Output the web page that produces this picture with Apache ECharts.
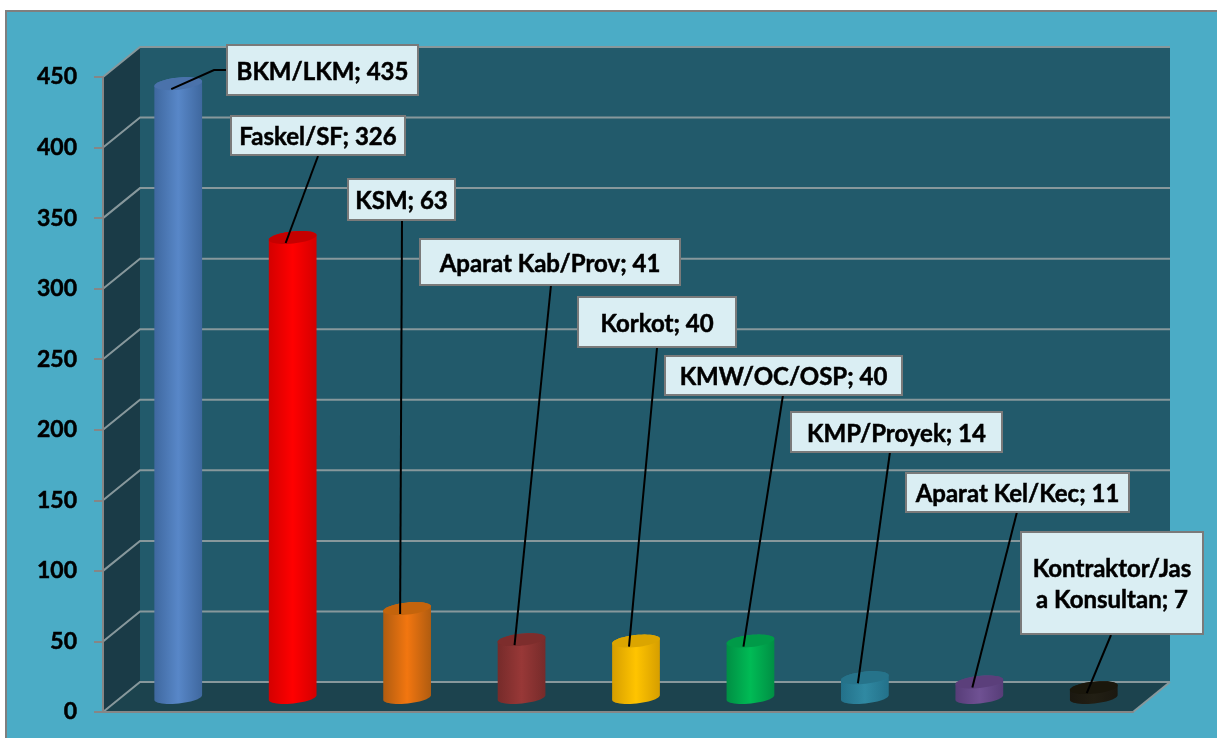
<!DOCTYPE html>
<html><head><meta charset="utf-8">
<style>html,body{margin:0;padding:0;background:#fff}#c{width:1217px;height:738px}</style>
<script src="https://cdn.jsdelivr.net/npm/echarts@6/dist/echarts.min.js"></script>
</head><body><div id="c"></div>
<script>
const categories = ['BKM/LKM','Faskel/SF','KSM','Aparat Kab/Prov','Korkot','KMW/OC/OSP','KMP/Proyek','Aparat Kel/Kec','Kontraktor/Jas\na Konsultan'];
const values = [435,326,63,41,40,40,14,11,7];
const yTicks = [0,50,100,150,200,250,300,350,400,450];
const barColors = [
  ['#3f689f','#5887c8','#4a72ab'],
  ['#d40000','#ff0000','#c60000'],
  ['#b05c10','#f27610','#c4640c'],
  ['#762b2a','#983837','#7d2d2c'],
  ['#d69e00','#ffc400','#dba500'],
  ['#008f44','#00bb55','#009a48'],
  ['#23718a','#3089a2','#26738a'],
  ['#573d78','#6f5193','#5b3f7b'],
  ['#1b1810','#221f14','#1a170c']
];
// annotation boxes in page pixels: x, y, width, height
const labelBoxes = [[227,45,191,50],[231,116,174,39],[348,179,107,41],[420,239,260,46],[578,297,158,50],[665,356,237,39],[791,412,211,40],[906,473,223,39],[1021,532,182,102]];
// where each leader leaves its box, and an optional elbow
const leaderStarts = [[[227,70],[214,70]],[[318,156]],[[402,221]],[[551,285]],[[657,348]],[[783,395]],[[890,452]],[[1017,512]],[[1111,635]]];

const DX = 37, DY = -30, CX = 18, CY = -14.5, RX = 24, RY = 6, TILT = -6 * Math.PI / 180;
const GRID = '#87989c', FONT = 'Lato, "Open Sans", sans-serif';

function ell(cx, cy, a, b) {
  const pts = [];
  for (let t = a; t <= b + 1e-6; t += Math.PI / 24) {
    const x = RX * Math.cos(t), y = RY * Math.sin(t);
    pts.push([cx + x * Math.cos(TILT) - y * Math.sin(TILT), cy + x * Math.sin(TILT) + y * Math.cos(TILT)]);
  }
  return pts;
}

function backdrop(params, api) {
  const s = params.coordSys, l = s.x, r = s.x + s.width, t = s.y, b = s.y + s.height;
  return { type: 'group', children: [
    { type: 'polygon', shape: { points: [[l+DX,t+DY],[r+DX,t+DY],[r+DX,b+DY],[l+DX,b+DY]] }, style: { fill: '#225a6b' } },
    { type: 'polygon', shape: { points: [[l,t],[l+DX,t+DY],[l+DX,b+DY],[l,b]] }, style: { fill: '#1a3b47' } },
    { type: 'polygon', shape: { points: [[l,b],[l+DX,b+DY],[r+DX,b+DY],[r,b]] }, style: { fill: '#1c434e' } },
    { type: 'line', shape: { x1: r, y1: b, x2: r+DX, y2: b+DY }, style: { stroke: GRID, lineWidth: 2 } }
  ]};
}

function gridLine(params, api) {
  const p = api.coord([0, api.value(0)]);
  const s = params.coordSys, y = p[1], l = s.x, r = s.x + s.width;
  return { type: 'polyline', shape: { points: [[l,y],[l+DX,y+DY],[r+DX,y+DY]] }, style: { stroke: GRID, lineWidth: 2, fill: null } };
}

function cylinder(params, api) {
  const i = api.value(0), v = api.value(1), c = barColors[i];
  const base = api.coord([i, 0]), top = api.coord([i, v]);
  const cx = base[0] + CX, by = base[1] + CY, ty = top[1] + CY;
  const body = ell(cx, by, 0, Math.PI).concat(ell(cx, ty, Math.PI, 2 * Math.PI));
  return { type: 'group', children: [
    { type: 'polygon', shape: { points: body }, style: { fill: new echarts.graphic.LinearGradient(0,0,1,0,[{offset:0,color:c[0]},{offset:0.5,color:c[1]},{offset:1,color:c[0]}]) } },
    { type: 'polygon', shape: { points: ell(cx, ty, 0, 2 * Math.PI) }, style: { fill: c[2] } }
  ]};
}

function callout(params, api) {
  const i = api.value(0), v = api.value(1), box = labelBoxes[i];
  const top = api.coord([i, v]);
  const tip = [top[0] + CX - 7, top[1] + CY + 5.5];
  return { type: 'group', children: [
    { type: 'polyline', shape: { points: leaderStarts[i].concat([tip]) }, style: { stroke: '#000', lineWidth: 2, fill: null } },
    { type: 'rect', shape: { x: box[0], y: box[1], width: box[2], height: box[3] }, style: { fill: '#daeef3', stroke: '#7a7a7a', lineWidth: 2 } },
    { type: 'text', x: box[0] + box[2] / 2, y: box[1] + box[3] / 2 + 2, style: { text: categories[i] + '; ' + v, fill: '#000', stroke: '#000', lineWidth: 0.5, font: 'bold 24px ' + FONT, align: 'center', verticalAlign: 'middle', lineHeight: 31 } }
  ]};
}

const indexed = values.map((v, i) => [i, v]);
const chart = echarts.init(document.getElementById('c'), null, { renderer: 'canvas' });
chart.setOption({
  animation: false,
  graphic: [{ type: 'rect', z: -10, silent: true, shape: { x: 6, y: 11, width: 1230, height: 750 }, style: { fill: '#4bacc6', stroke: '#7f7f7f', lineWidth: 2 } }],
  grid: { left: 103, right: 84, top: 77, bottom: 26 },
  xAxis: { type: 'category', data: categories, z: 3,
    axisLine: { lineStyle: { color: '#868686', width: 2 } }, axisTick: { show: false }, axisLabel: { show: false } },
  yAxis: { type: 'value', min: 0, max: 450, interval: 50, z: 3,
    axisLine: { show: true, lineStyle: { color: '#868686', width: 2 } },
    axisTick: { show: true, length: 9, lineStyle: { color: '#868686', width: 2 } },
    axisLabel: { fontFamily: 'Lato', fontWeight: 'bold', fontSize: 23, color: '#000', margin: 26, padding: [7, 0, 0, 0], textBorderColor: '#000', textBorderWidth: 0.5 },
    splitLine: { show: false } },
  series: [
    { type: 'custom', z: 1, silent: true, data: [[0, 0]], renderItem: backdrop, clip: false },
    { type: 'custom', z: 2, silent: true, data: yTicks.map(t => [t]), encode: { y: 0 }, renderItem: gridLine, clip: false },
    { type: 'custom', z: 4, silent: true, data: indexed, encode: { x: 0, y: 1 }, renderItem: cylinder, clip: false },
    { type: 'custom', z: 6, silent: true, data: indexed, encode: { x: 0, y: 1 }, renderItem: callout, clip: false }
  ]
});
</script></body></html>
